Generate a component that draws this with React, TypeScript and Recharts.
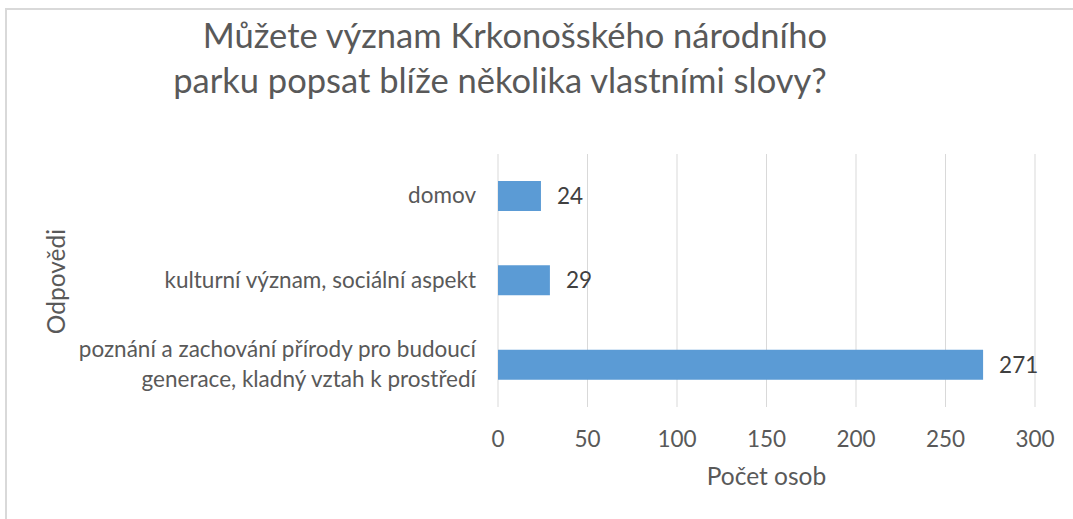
import React from 'react';
import { BarChart, Bar, XAxis, YAxis, CartesianGrid, LabelList, Label } from 'recharts';

const categories = [
  'domov',
  'kulturní význam, sociální aspekt',
  'poznání a zachování přírody pro budoucí\ngenerace, kladný vztah k prostředí',
];
const counts = [24, 29, 271];
const xTicks = [0, 50, 100, 150, 200, 250, 300];
const titleLines = ['Můžete význam Krkonošského národního', 'parku popsat blíže několika vlastními slovy?'];
const xAxisTitle = 'Počet osob';
const yAxisTitle = 'Odpovědi';

const data = categories.map((c, i) => ({ category: c, count: counts[i] }));

const FONT = 'Lato, "Open Sans", "DejaVu Sans", sans-serif';
const TICK_SIZE = 22.5;
const AXIS_TITLE_SIZE = 24.5;
const TITLE_SIZE = 34.5;
const GREY = '#595959';

const YTick = (props: any) => {
  const { x, y, payload } = props;
  const lines = String(payload.value).split('\n');
  const lh = 30;
  const start = y + 7 - ((lines.length - 1) * lh) / 2;
  return (
    <text x={x} y={start} textAnchor="end" fill={GREY} fontFamily={FONT} fontSize={TICK_SIZE}>
      {lines.map((l, i) => (
        <tspan key={i} x={x} y={start + i * lh}>
          {l}
        </tspan>
      ))}
    </text>
  );
};

const XTick = (props: any) => {
  const { x, y, payload } = props;
  return (
    <text x={x} y={y + 40} textAnchor="middle" fill={GREY} fontFamily={FONT} fontSize={TICK_SIZE}>
      {payload.value}
    </text>
  );
};

const ValueLabel = (props: any) => {
  const { x, y, width, height, value } = props;
  return (
    <text x={x + width + 16} y={y + height / 2 + 8} fill="#404040" fontFamily={FONT} fontSize={TICK_SIZE}>
      {value}
    </text>
  );
};

const XTitle = (props: any) => {
  const { viewBox } = props;
  return (
    <text
      x={viewBox.x + viewBox.width / 2}
      y={viewBox.y + 78}
      textAnchor="middle"
      fill={GREY}
      fontFamily={FONT}
      fontSize={AXIS_TITLE_SIZE}
    >
      {xAxisTitle}
    </text>
  );
};

const YTitle = (props: any) => {
  const { viewBox } = props;
  const cx = 65;
  const cy = viewBox.y + viewBox.height / 2 + 1;
  return (
    <text
      x={cx}
      y={cy}
      transform={`rotate(-90 ${cx} ${cy})`}
      textAnchor="middle"
      fill={GREY}
      fontFamily={FONT}
      fontSize={AXIS_TITLE_SIZE}
    >
      {yAxisTitle}
    </text>
  );
};

export default function App() {
  return (
    <div
      style={{
        position: 'absolute',
        left: 0,
        top: 0,
        width: 1073,
        height: 519,
        overflow: 'hidden',
        background: '#ffffff',
      }}
    >
      <svg width={1073} height={519} style={{ position: 'absolute', left: 0, top: 0 }}>
        <rect x={6} y={9} width={1200} height={700} fill="none" stroke="#D9D9D9" strokeWidth={2} />
        <text x={515} y={48} textAnchor="middle" fill={GREY} fontFamily={FONT} fontSize={TITLE_SIZE}>
          {titleLines[0]}
        </text>
        <text x={500} y={93} textAnchor="middle" fill={GREY} fontFamily={FONT} fontSize={TITLE_SIZE}>
          {titleLines[1]}
        </text>
      </svg>
      <div style={{ position: 'absolute', left: 0, top: 0 }}>
        <BarChart
          width={1073}
          height={519}
          data={data}
          layout="vertical"
          margin={{ top: 154, right: 38, bottom: 0, left: 0 }}
          barSize={30}
        >
          <CartesianGrid horizontal={false} vertical={true} stroke="#D9D9D9" strokeWidth={1} />
          <XAxis
            type="number"
            domain={[0, 300]}
            ticks={xTicks}
            interval={0}
            height={112}
            axisLine={false}
            tickLine={false}
            tickSize={0}
            tickMargin={0}
            tick={<XTick />}
          >
            <Label content={<XTitle />} />
          </XAxis>
          <YAxis
            type="category"
            dataKey="category"
            width={498}
            axisLine={false}
            tickLine={false}
            tickSize={0}
            tickMargin={22}
            interval={0}
            tick={<YTick />}
          >
            <Label content={<YTitle />} />
          </YAxis>
          <Bar dataKey="count" fill="#5B9BD5" isAnimationActive={false}>
            <LabelList dataKey="count" content={<ValueLabel />} />
          </Bar>
        </BarChart>
      </div>
    </div>
  );
}
